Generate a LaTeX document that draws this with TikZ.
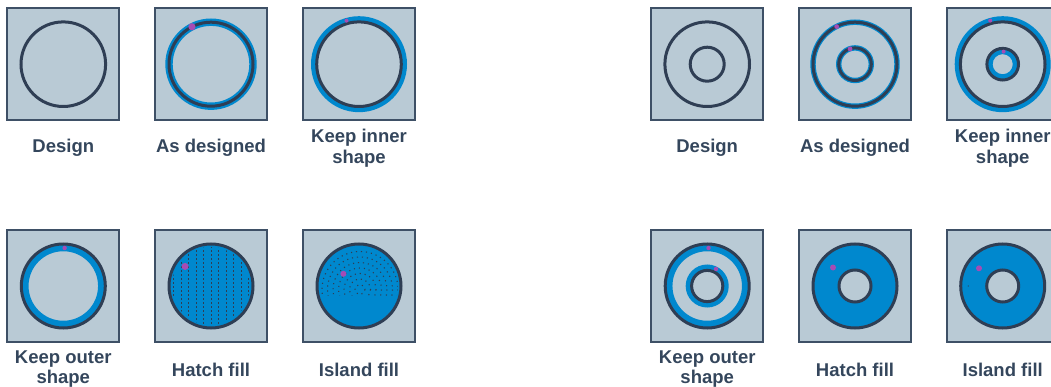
\documentclass[tikz,border=0pt]{standalone}
\usepackage{fontspec}
\setmainfont{Liberation Sans}
\definecolor{panelfill}{HTML}{B9CAD5}
\definecolor{panelborder}{HTML}{3E5066}
\definecolor{darkline}{HTML}{2F3E54}
\definecolor{cblue}{HTML}{0088CE}
\definecolor{pindotcol}{HTML}{A64CB4}
\definecolor{textcol}{HTML}{34465C}
\tikzset{
  panel/.style={fill=panelfill,draw=panelborder,line width=2},
  outline/.style={draw=darkline,line width=3},
  bluering/.style={draw=cblue,line width=#1},
  pindot/.style={fill=pindotcol},
  hatchline/.style={draw=darkline,line width=1,dash pattern=on 1.6 off 2.4},
  islandline/.style={draw=darkline,line width=1.1,dash pattern=on 1.1 off 3.9},
  lbl/.style={font=\bfseries\fontsize{18.5}{20.7}\selectfont,text=textcol,align=center,anchor=north,inner sep=0}
}
\begin{document}
\begin{tikzpicture}[x=1pt,y=-1pt]
\useasboundingbox (0,0) rectangle (1051,387);
% ---------- panels ----------
\foreach \cx/\cy/\nm in {63.3/64.2/pa,211/64.2/pb,359/64.2/pc,63.3/286/pd,211/286/pe,359/286/pf,707.2/64.2/pg,855/64.2/ph,1002.7/64.2/pi,707.2/286/pj,855/286/pk,1002.7/286/pl}{
  \draw[panel] (\cx-56,\cy-56) rectangle (\cx+56,\cy+56);
  \coordinate (\nm) at (\cx,\cy);
}
% ---------- left group ----------
% Design
\draw[outline] (pa) circle (42.3);
% As designed
\draw[bluering=7.4] (pb) circle (42);
\draw[outline] (pb) circle (42);
\fill[pindot] (pb) ++(-117:42) circle (3.6);
% Keep inner shape
\draw[bluering=6] (pc) circle (45);
\draw[outline] (pc) circle (42.3);
\fill[pindot] (pc) ++(-106:45.3) circle (2);
% Keep outer shape
\draw[bluering=6.5] (pd) circle (38);
\draw[outline] (pd) circle (42);
\fill[pindot] (pd) ++(-88:38) circle (2.2);
% Hatch fill
\fill[cblue] (pe) circle (42);
\begin{scope}
  \clip (pe) circle (39);
  \foreach \dx in {-37.5,-30,...,38}{
    \draw[hatchline] (pe) ++(\dx,-40) -- ++(0,80);
  }
\end{scope}
\draw[outline] (pe) circle (42);
\fill[pindot] (pe) ++(-143:32.5) circle (3.5);
% Island fill
\fill[cblue] (pf) circle (42);
\begin{scope}
  \clip (pf) circle (39);
  \clip (300,230) rectangle (420,295.5);
  \foreach \r in {5,10.5,...,40}{
    \draw[islandline] (pf) ++(1,3.5) circle (\r);
  }
\end{scope}
\draw[outline] (pf) circle (42);
\fill[pindot] (pf) ++(-15.6,-12.2) circle (3);
% ---------- right group ----------
% Design
\draw[outline] (pg) circle (42.3);
\draw[outline] (pg) circle (17);
% As designed
\draw[bluering=5.4] (ph) circle (42);
\draw[bluering=5.4] (ph) circle (16.3);
\draw[outline] (ph) circle (42);
\draw[outline] (ph) circle (16.3);
\fill[pindot] (ph) ++(-116:41.8) circle (2.4);
\fill[pindot] (ph) ++(-108:16.1) circle (2.4);
% Keep inner shape
\draw[bluering=6] (pi) circle (45);
\draw[outline] (pi) circle (42.3);
\draw[bluering=5] (pi) circle (12.6);
\draw[outline] (pi) circle (15.8);
\fill[pindot] (pi) ++(-106:45.3) circle (2);
\fill[pindot] (pi) ++(-86:12.6) circle (2);
% Keep outer shape
\draw[bluering=6.5] (pj) circle (38);
\draw[outline] (pj) circle (42);
\draw[bluering=6] (pj) circle (18.5);
\draw[outline] (pj) circle (15.6);
\fill[pindot] (pj) ++(-88:38) circle (2.2);
\fill[pindot] (pj) ++(-62.6:19.2) circle (2.2);
% Hatch fill
\fill[cblue,even odd rule] (pk) circle (42) (pk) circle (16);
\draw[outline] (pk) circle (42);
\draw[outline] (pk) circle (16);
\fill[pindot] (pk) ++(-22,-18.5) circle (3);
% Island fill
\fill[cblue,even odd rule] (pl) circle (42) (pl) circle (16);
\draw[outline] (pl) circle (42);
\draw[outline] (pl) circle (16);
\fill[pindot] (pl) ++(-23.7,-17.7) circle (3);
\fill[darkline] (pl) ++(-34.5,0) circle (0.6);
% ---------- labels ----------
\node[lbl] (la) at (63.3,138.8) {Design};
\node[lbl] (lb) at (211,138.8) {As designed};
\node[lbl] (lc) at (359,128.8) {Keep inner\\shape};
\node[lbl] (ld) at (63.3,350.1) {Keep outer\\shape};
\node[lbl] (le) at (211,362.5) {Hatch fill};
\node[lbl] (lf) at (359,362.5) {Island fill};
\node[lbl] (lg) at (707.2,138.8) {Design};
\node[lbl] (lh) at (855,138.8) {As designed};
\node[lbl] (li) at (1002.7,128.8) {Keep inner\\shape};
\node[lbl] (lj) at (707.2,350.1) {Keep outer\\shape};
\node[lbl] (lk) at (855,362.5) {Hatch fill};
\node[lbl] (ll) at (1002.7,362.5) {Island fill};
\end{tikzpicture}
\end{document}
